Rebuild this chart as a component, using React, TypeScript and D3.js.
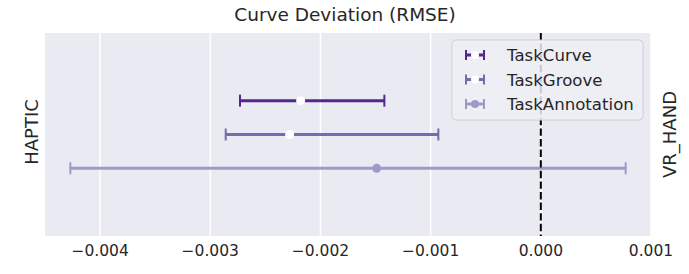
import * as d3 from "d3";

// tasks, in draw order (top to bottom)
const tasks = ["TaskCurve", "TaskGroove", "TaskAnnotation"];
const means = [-0.00218, -0.00228, -0.00149];
const lows = [-0.00273, -0.00286, -0.00427];
const highs = [-0.00142, -0.00093, 0.00077];
const colors = ["#54278f", "#756bb1", "#9e9ac8"];
const hollow = [true, true, false];
const xTicks = [-0.004, -0.003, -0.002, -0.001, 0.0, 0.001];

const W = 689;
const H = 274;
const plot = { left: 45, right: 651, top: 33, bottom: 236 };
const font = "DejaVu Sans, sans-serif";
const ink = "#262626";

function fmt(v: number) {
  const s = Math.abs(v).toFixed(3);
  return v < 0 ? "\u2212" + s : s;
}

export default function App() {
  const x = d3.scaleLinear().domain([-0.0045, 0.001]).range([plot.left, plot.right]);
  const y = d3.scaleLinear().domain([-2, 4]).range([plot.top, plot.bottom]);
  const cap = 6;
  const midY = (plot.top + plot.bottom) / 2;

  return (
    <svg
      width={W}
      height={H}
      style={{ position: "absolute", left: 0, top: 0, fontFamily: font }}
    >
      <rect x={0} y={0} width={W} height={H} fill="#ffffff" />
      <rect
        x={plot.left}
        y={plot.top}
        width={plot.right - plot.left}
        height={plot.bottom - plot.top}
        fill="#eaeaf2"
      />
      {xTicks.map((t) => (
        <g key={t}>
          <line
            x1={x(t)}
            x2={x(t)}
            y1={plot.top}
            y2={plot.bottom}
            stroke="#ffffff"
            strokeWidth={1.5}
          />
          <text x={x(t)} y={256} textAnchor="middle" fontSize={15.5} fill={ink}>
            {fmt(t)}
          </text>
        </g>
      ))}

      {tasks.map((task, i) => (
        <g key={task}>
          <line
            x1={x(lows[i])}
            x2={x(highs[i])}
            y1={y(i)}
            y2={y(i)}
            stroke={colors[i]}
            strokeWidth={3}
          />
          <line x1={x(lows[i])} x2={x(lows[i])} y1={y(i) - cap} y2={y(i) + cap} stroke={colors[i]} strokeWidth={2} />
          <line x1={x(highs[i])} x2={x(highs[i])} y1={y(i) - cap} y2={y(i) + cap} stroke={colors[i]} strokeWidth={2} />
          <circle cx={x(means[i])} cy={y(i)} r={4.5} fill={hollow[i] ? "#ffffff" : colors[i]} />
        </g>
      ))}

      <line
        x1={x(0)}
        x2={x(0)}
        y1={plot.top}
        y2={plot.bottom}
        stroke="#000000"
        strokeWidth={2}
        strokeDasharray="7.4,3.2"
      />

      {/* legend */}
      <g>
        <rect
          x={452}
          y={40}
          width={191}
          height={80}
          rx={4}
          fill="#eaeaf2"
          fillOpacity={0.8}
          stroke="#cccccc"
          strokeWidth={1}
        />
        <rect x={452} y={40} width={191} height={80} rx={4} fill="#ffffff" fillOpacity={0.2} />
        {tasks.map((task, i) => {
          const ly = 55 + i * 24.5;
          return (
            <g key={task}>
              <line x1={466} x2={484} y1={ly} y2={ly} stroke={colors[i]} strokeWidth={3} />
              <line x1={466} x2={466} y1={ly - 5} y2={ly + 5} stroke={colors[i]} strokeWidth={2} />
              <line x1={484} x2={484} y1={ly - 5} y2={ly + 5} stroke={colors[i]} strokeWidth={2} />
              <circle cx={475} cy={ly} r={4} fill={hollow[i] ? "#ffffff" : colors[i]} />
              <text x={507} y={ly + 6} fontSize={16.6} fill={ink}>
                {task}
              </text>
            </g>
          );
        })}
      </g>

      <text x={W / 2 + 0.5} y={21} textAnchor="middle" fontSize={18.5} fill={ink}>
        Curve Deviation (RMSE)
      </text>
      <text
        transform={`translate(38, 132) rotate(-90)`}
        textAnchor="middle"
        fontSize={18}
        fill={ink}
      >
        HAPTIC
      </text>
      <text
        transform={`translate(676, ${midY}) rotate(-90)`}
        textAnchor="middle"
        fontSize={18}
        fill={ink}
      >
        VR_HAND
      </text>
    </svg>
  );
}
